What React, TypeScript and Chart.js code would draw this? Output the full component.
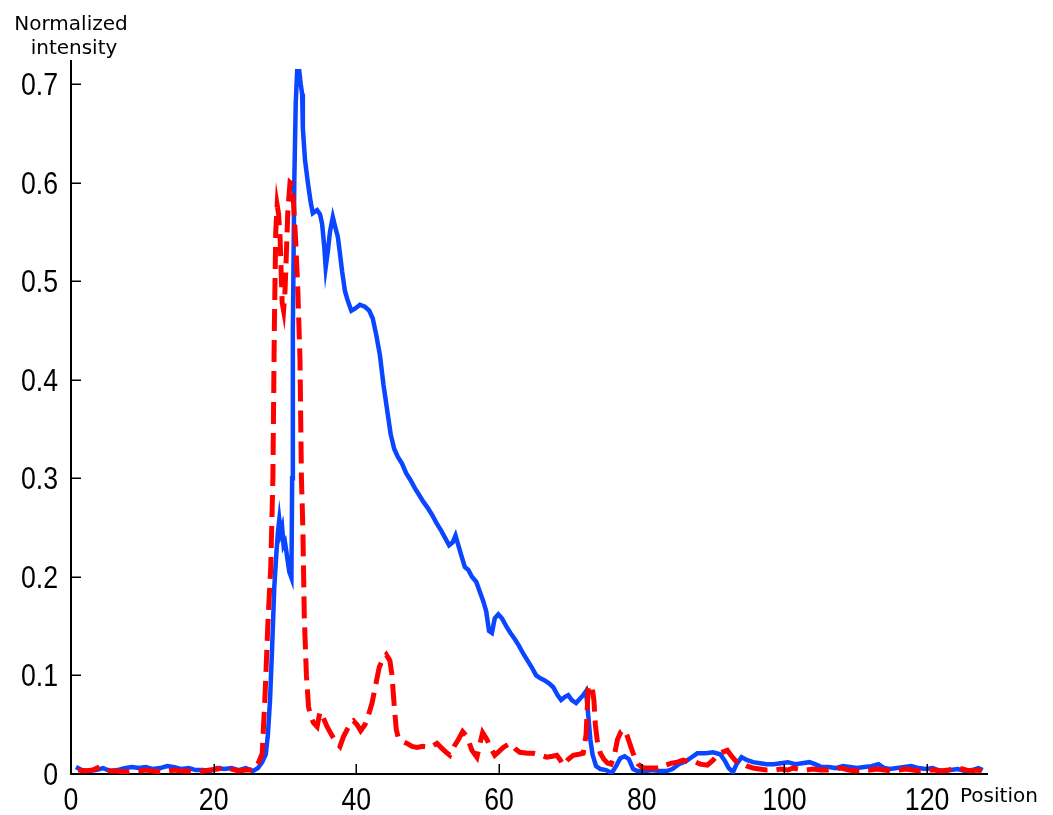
import React, { useEffect, useRef } from "react";
import { Chart, registerables } from "chart.js";

Chart.register(...registerables);

// Blue (solid) profile
const bluePos = [0.7,1.5,2.5,3.5,4.5,5.5,6.5,7.5,8.5,9.5,10.5,11.5,12.5,13.5,14.5,15.5,16.5,17.5,18.5,19.5,20.5,21.5,22.5,23.5,24.5,25.5,26.2,26.8,27.3,27.6,27.9,28.2,28.5,28.8,29.0,29.2,29.4,29.6,29.8,30.0,30.3,30.6,30.9,31.0,31.1,31.3,31.5,31.7,32.0,32.2,32.4,32.5,32.8,33.2,33.6,33.9,34.5,34.9,35.2,35.5,35.7,36.0,36.3,36.7,37.0,37.4,37.7,38.0,38.4,38.8,39.3,39.8,40.5,41.2,41.8,42.3,42.8,43.3,43.8,44.3,44.8,45.3,45.8,46.4,47.0,47.6,48.2,48.8,49.4,50.0,50.6,51.2,51.8,52.4,53.0,53.5,53.9,54.3,54.7,55.2,55.7,56.2,56.8,57.3,57.8,58.2,58.6,59.0,59.4,59.9,60.4,61.0,61.6,62.2,62.8,63.4,64.0,64.6,65.2,65.8,66.4,67.0,67.6,68.2,68.7,69.2,69.7,70.2,70.8,71.3,71.8,72.2,72.5,72.8,73.1,73.6,74.2,75.0,75.8,76.4,77.0,77.6,78.2,78.8,79.4,80.5,81.5,82.5,83.5,84.3,85.2,86.2,87.0,87.8,89.0,90.0,91.0,91.6,92.2,92.8,93.3,94.0,94.8,95.6,96.6,97.5,98.5,99.5,100.5,101.5,102.5,103.5,104.3,105.2,106.2,107.2,108.2,109.2,110.2,111.2,112.2,113.2,114.0,114.8,115.8,116.8,117.8,118.8,119.8,120.8,121.5,122.3,123.3,124.3,125.3,126.3,127.2,127.8];
const blueVal = [0.007,0.004,0.003,0.004,0.006,0.003,0.004,0.006,0.007,0.006,0.007,0.005,0.006,0.008,0.007,0.005,0.006,0.004,0.004,0.003,0.006,0.005,0.006,0.004,0.006,0.003,0.006,0.012,0.02,0.04,0.075,0.13,0.19,0.225,0.245,0.258,0.245,0.25,0.232,0.235,0.22,0.205,0.199,0.3,0.45,0.6,0.68,0.713,0.713,0.7,0.69,0.655,0.623,0.6,0.58,0.569,0.572,0.568,0.558,0.535,0.514,0.53,0.55,0.565,0.556,0.545,0.528,0.51,0.49,0.48,0.47,0.472,0.476,0.474,0.47,0.462,0.445,0.425,0.395,0.37,0.345,0.33,0.322,0.315,0.305,0.298,0.29,0.283,0.276,0.27,0.263,0.255,0.248,0.24,0.232,0.235,0.242,0.232,0.222,0.21,0.207,0.2,0.195,0.185,0.175,0.165,0.145,0.143,0.158,0.162,0.158,0.15,0.143,0.137,0.13,0.122,0.115,0.108,0.1,0.097,0.095,0.092,0.088,0.08,0.075,0.078,0.08,0.075,0.072,0.076,0.08,0.084,0.06,0.035,0.02,0.008,0.005,0.004,0.001,0.008,0.016,0.018,0.015,0.005,0.003,0.003,0.004,0.003,0.003,0.005,0.01,0.013,0.017,0.021,0.021,0.022,0.02,0.014,0.006,0.002,0.01,0.017,0.014,0.012,0.011,0.01,0.01,0.011,0.012,0.01,0.011,0.012,0.01,0.007,0.007,0.006,0.008,0.007,0.006,0.007,0.008,0.01,0.006,0.005,0.006,0.007,0.008,0.006,0.005,0.006,0.004,0.003,0.004,0.005,0.003,0.004,0.006,0.004];

// Red (dashed) profile
const redPos = [1.0,2.0,3.0,4.0,4.8,5.5,6.5,7.5,8.5,9.5,10.5,11.5,12.5,13.5,14.5,15.5,16.5,17.5,18.5,19.5,20.5,21.5,22.5,23.5,24.5,25.5,26.2,26.8,27.2,27.6,28.0,28.3,28.5,28.7,28.9,29.1,29.3,29.5,29.6,29.8,30.0,30.2,30.4,30.7,31.0,31.2,31.5,31.8,32.1,32.3,32.5,32.7,33.0,33.3,33.6,34.0,34.5,34.9,35.3,35.9,36.5,37.2,37.7,38.2,38.7,39.2,39.6,40.1,40.6,41.2,41.7,42.2,42.7,43.2,43.6,44.2,44.7,45.0,45.3,45.6,45.9,46.5,47.1,47.8,48.5,49.3,50.3,51.3,52.0,52.6,53.1,53.7,54.3,54.9,55.5,56.2,56.9,57.3,57.7,58.3,58.8,59.4,60.0,60.6,61.5,62.2,62.9,64.0,64.8,65.8,66.7,67.5,68.1,68.6,69.0,69.7,70.4,71.2,71.8,72.2,72.5,73.0,73.3,73.5,73.8,74.2,74.7,75.2,75.7,76.2,76.6,77.1,77.6,78.0,78.5,79.0,79.5,80.2,81.5,82.6,83.4,84.2,85.0,85.8,86.6,87.3,88.2,89.2,90.0,90.6,91.3,92.0,92.6,93.2,94.0,94.8,95.6,96.5,97.5,98.5,99.5,100.5,101.2,102,103,104,105,106,107,108,109,110,111,112,113,114,115,116,117,118,119,120,121,122,123,124,125,126,127,127.8];
const redVal = [0.004,0.003,0.004,0.007,0.006,0.003,0.003,0.002,0.003,0.003,0.004,0.003,0.002,0.003,0.004,0.003,0.003,0.002,0.003,0.004,0.005,0.007,0.005,0.003,0.004,0.004,0.01,0.021,0.08,0.153,0.21,0.3,0.45,0.55,0.577,0.568,0.545,0.5,0.478,0.47,0.49,0.53,0.572,0.6,0.598,0.578,0.54,0.49,0.42,0.3,0.25,0.16,0.1,0.068,0.058,0.052,0.048,0.063,0.058,0.048,0.04,0.032,0.028,0.038,0.045,0.052,0.054,0.05,0.044,0.05,0.06,0.072,0.09,0.108,0.115,0.121,0.115,0.1,0.07,0.045,0.036,0.033,0.031,0.028,0.027,0.028,0.027,0.031,0.026,0.022,0.019,0.028,0.035,0.043,0.038,0.024,0.017,0.03,0.042,0.035,0.027,0.019,0.023,0.027,0.031,0.026,0.022,0.021,0.021,0.019,0.017,0.018,0.019,0.014,0.009,0.015,0.019,0.02,0.021,0.04,0.087,0.09,0.075,0.05,0.032,0.021,0.015,0.011,0.01,0.02,0.035,0.043,0.045,0.038,0.027,0.017,0.01,0.006,0.006,0.006,0.009,0.011,0.012,0.014,0.012,0.013,0.01,0.009,0.014,0.019,0.022,0.024,0.018,0.013,0.011,0.008,0.006,0.005,0.004,0.004,0.005,0.004,0.006,0.005,0.004,0.005,0.004,0.004,0.005,0.006,0.004,0.003,0.004,0.004,0.005,0.004,0.003,0.004,0.005,0.004,0.003,0.004,0.004,0.003,0.004,0.006,0.005,0.003,0.004,0.003];

const xTicks = [0, 20, 40, 60, 80, 100, 120];
const yTicks = [0, 0.1, 0.2, 0.3, 0.4, 0.5, 0.6, 0.7];
const yAxisTitle = ["Normalized", "intensity"];
const xAxisTitle = "Position";

const TICK_FONT = "'Liberation Sans', Arial, sans-serif";
const TITLE_FONT = "'DejaVu Sans', Verdana, sans-serif";
const SQUEEZE = 0.86;

function fmtY(v: number) {
  return v === 0 ? "0" : v.toFixed(1);
}

const axisDecor = {
  id: "axisDecor",
  afterDatasetsDraw(chart: any) {
    const { ctx, chartArea, scales } = chart;
    ctx.save();
    ctx.strokeStyle = "#000";
    ctx.lineWidth = 1.5;
    ctx.beginPath();
    for (const v of xTicks) {
      const px = Math.round(scales.x.getPixelForValue(v)) + 0.25;
      ctx.moveTo(px, chartArea.bottom);
      ctx.lineTo(px, chartArea.bottom - 10);
    }
    for (const v of yTicks) {
      const py = Math.round(scales.y.getPixelForValue(v)) + 0.25;
      ctx.moveTo(chartArea.left, py);
      ctx.lineTo(chartArea.left + 10, py);
    }
    ctx.stroke();

    // tick labels (slightly condensed, like the reference)
    ctx.fillStyle = "#000";
    ctx.font = `31px ${TICK_FONT}`;
    ctx.textBaseline = "alphabetic";
    for (const v of xTicks) {
      const px = scales.x.getPixelForValue(v);
      ctx.save();
      ctx.translate(px, chartArea.bottom + 36);
      ctx.scale(SQUEEZE, 1);
      ctx.textAlign = "center";
      ctx.fillText(String(v), 0, 0);
      ctx.restore();
    }
    for (const v of yTicks) {
      const py = scales.y.getPixelForValue(v);
      ctx.save();
      ctx.translate(chartArea.left - 13, py + 11);
      ctx.scale(SQUEEZE, 1);
      ctx.textAlign = "right";
      ctx.fillText(fmtY(v), 0, 0);
      ctx.restore();
    }

    ctx.font = `20px ${TITLE_FONT}`;
    ctx.textAlign = "center";
    ctx.fillText(yAxisTitle[0], chartArea.left, 30);
    ctx.fillText(yAxisTitle[1], chartArea.left + 3, 54);
    ctx.textAlign = "left";
    ctx.fillText(xAxisTitle, chartArea.right - 27, 802);
    ctx.restore();
  },
};

export default function App() {
  const ref = useRef<HTMLCanvasElement | null>(null);
  useEffect(() => {
    if (!ref.current) return;
    const chart = new Chart(ref.current, {
      type: "line",
      data: {
        datasets: [
          {
            label: "red",
            data: redPos.map((x, i) => ({ x, y: redVal[i] })),
            borderColor: "#ff0000",
            borderWidth: 5,
            borderDash: [22, 9],
            pointRadius: 0,
            tension: 0,
            fill: false,
          },
          {
            label: "blue",
            data: bluePos.map((x, i) => ({ x, y: blueVal[i] })),
            borderColor: "#0a46ff",
            borderWidth: 4.5,
            pointRadius: 0,
            tension: 0,
            fill: false,
          },
        ],
      },
      options: {
        animation: false,
        responsive: false,
        devicePixelRatio: 1,
        layout: { padding: { top: 61, right: 66, bottom: 0, left: 0 } },
        plugins: { legend: { display: false }, tooltip: { enabled: false } },
        scales: {
          x: {
            type: "linear",
            min: 0,
            max: 128.4,
            afterFit: (s: any) => { s.height = 41; },
            afterBuildTicks: (s: any) => { s.ticks = xTicks.map((v) => ({ value: v })); },
            grid: { display: false, drawTicks: false, tickLength: 0 },
            border: { display: true, color: "#000", width: 2 },
            ticks: { display: false },
          },
          y: {
            type: "linear",
            min: 0,
            max: 0.7233,
            afterFit: (s: any) => { s.width = 71; },
            afterBuildTicks: (s: any) => { s.ticks = yTicks.map((v) => ({ value: v })); },
            grid: { display: false, drawTicks: false, tickLength: 0 },
            border: { display: true, color: "#000", width: 2 },
            ticks: { display: false },
          },
        },
      },
      plugins: [axisDecor],
    });
    return () => chart.destroy();
  }, []);
  return (
    <div style={{ position: "fixed", left: 0, top: 0, width: 1053, height: 815, background: "#fff" }}>
      <canvas ref={ref} width={1053} height={815} style={{ display: "block" }} />
    </div>
  );
}
